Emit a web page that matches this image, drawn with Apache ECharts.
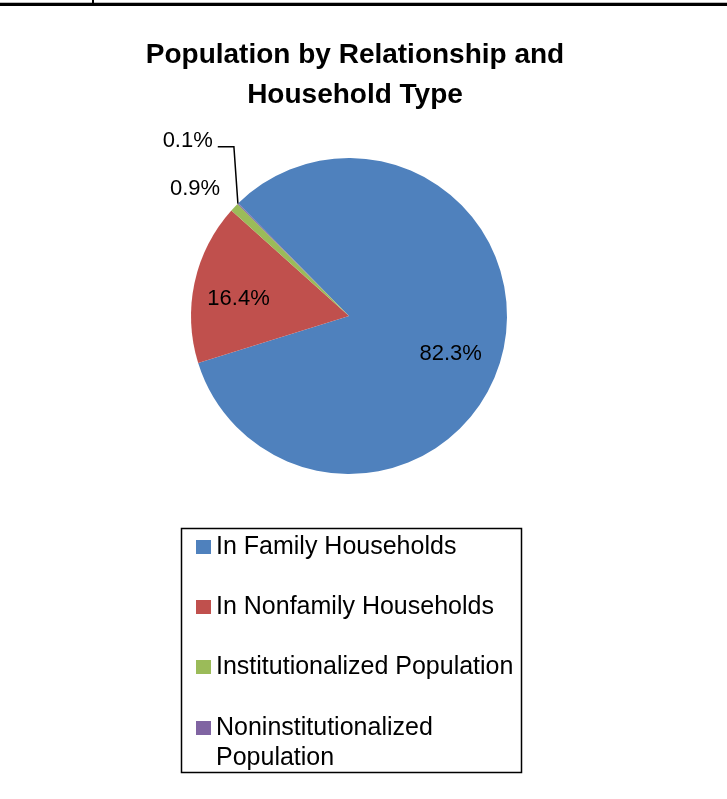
<!DOCTYPE html>
<html><head><meta charset="utf-8">
<script src="https://cdn.jsdelivr.net/npm/echarts@6/dist/echarts.min.js"></script>
<style>html,body{margin:0;padding:0;background:#fff}#c{width:727px;height:799px}</style>
</head><body><div id="c"></div>
<script>
const categories = ['In Family Households','In Nonfamily Households','Institutionalized Population','Noninstitutionalized Population'];
const values = [82.3, 16.4, 0.9, 0.1];
const colors = ['#4F81BD','#C0504D','#9BBB59','#8064A2'];
const titleText = 'Population by Relationship and\nHousehold Type';
// label nudges (style tweak, px)
const labelShift = {0:[-6,11], 1:[-2,7], 2:[48,-10], 3:[22,-34]};

const FONT = 'Liberation Sans';
const chart = echarts.init(document.getElementById('c'), null, {renderer:'canvas'});
const data = categories.map((n,i)=>({name:n, value:values[i], itemStyle:{color:colors[i]}}));
const labelData = categories.map((n,i)=>{
  const outside = values[i] < 5;
  return {
    name:n, value:values[i],
    label:{ position: outside ? 'outside' : 'inside' },
    labelLine:{ show: i === 3 }
  };
});
const legendText = {fontFamily:FONT, fontSize:25, color:'#000', lineHeight:30};
chart.setOption({
  animation:false,
  backgroundColor:'#fff',
  title:{text:titleText, left:355, top:35, padding:0, textAlign:'center',
         textStyle:{fontFamily:FONT, fontWeight:'bold', fontSize:28, color:'#000', lineHeight:40}},
  legend:[{
    orient:'vertical', left:196, top:532, padding:0,
    itemWidth:15, itemHeight:14, itemGap:30, icon:'rect',
    data:categories.slice(0,3), selectedMode:false,
    textStyle:legendText
  },{
    orient:'vertical', left:196, top:683, padding:0,
    itemWidth:15, itemHeight:14, icon:'rect',
    data:categories.slice(3), selectedMode:false,
    // leading blank line keeps the marker level with the first text line
    formatter:n => '\n' + n.replace(' ', '\n'),
    textStyle:legendText
  }],
  series:[
    {type:'pie', center:[349,316], radius:[0,158], startAngle:134.5, clockwise:true,
     label:{show:false}, labelLine:{show:false}, silent:true, data:data,
     itemStyle:{borderWidth:0}},
    {type:'pie', center:[349,316], radius:[58,158], startAngle:134.5, clockwise:true,
     silent:true, z:3, data:labelData, itemStyle:{color:'rgba(0,0,0,0)', borderWidth:0},
     emphasis:{disabled:true},
     label:{show:true, formatter:'{c}%', fontFamily:FONT, fontSize:22, color:'#000'},
     labelLine:{length:40, length2:14, lineStyle:{color:'#000', width:1.5}},
     labelLayout:p => {
       const s = labelShift[p.dataIndex];
       if (!s) return {};
       const out = {dx:s[0], dy:s[1]};
       if (p.labelLinePoints && p.dataIndex === 3) {
         const r = p.labelRect;
         const p0 = p.labelLinePoints[0];
         const right = r.x + r.width + s[0];
         const yLine = r.y + r.height * 0.75 + s[1];
         out.labelLinePoints = [[p0[0], p0[1]], [p0[0] - 4, yLine], [right + 5, yLine]];
       }
       return out;
     }}
  ],
  graphic:[
    {type:'rect', shape:{x:0,y:2,width:727,height:1}, style:{fill:'#bbb'}},
    {type:'rect', shape:{x:0,y:3,width:727,height:3}, style:{fill:'#000'}},
    {type:'rect', shape:{x:92,y:0,width:2,height:3}, style:{fill:'#000'}},
    {type:'rect', shape:{x:181.5,y:528.5,width:340,height:244}, style:{fill:'none', stroke:'#000', lineWidth:1.5}}
  ]
});
</script></body></html>
